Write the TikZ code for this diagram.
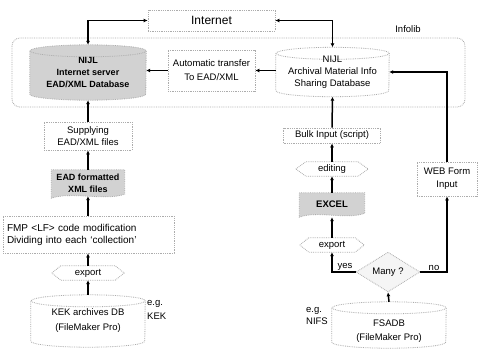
\documentclass[tikz,border=0pt]{standalone}
\usepackage{fontspec}
\setmainfont{Liberation Sans}
\usetikzlibrary{arrows.meta,shapes.geometric,calc,backgrounds}
\pgfdeclarelayer{paper}
\pgfsetlayers{paper,background,main}

\newcommand{\dbcyl}[3]{% name, fill, half width
  \begin{pgfonlayer}{background}
  \draw[outl, fill=#2] ([yshift=-6pt]#1.north west) -- ([yshift=6pt]#1.south west)
     arc[start angle=180, end angle=360, x radius=#3pt, y radius=6pt]
     -- ([yshift=-6pt]#1.north east)
     arc[start angle=0, end angle=180, x radius=#3pt, y radius=6pt] -- cycle;
  \draw[outl] ([yshift=-6pt]#1.north east) arc[start angle=0, end angle=-180, x radius=#3pt, y radius=6pt];
  \end{pgfonlayer}}
\newcommand{\hexshape}[2]{% name, inset
  \begin{pgfonlayer}{background}
  \draw[outl, fill=white] (#1.west) -- ([xshift=#2pt]#1.north west) -- ([xshift=-#2pt]#1.north east)
     -- (#1.east) -- ([xshift=-#2pt]#1.south east) -- ([xshift=#2pt]#1.south west) -- cycle;
  \end{pgfonlayer}}
\newcommand{\docshape}[2]{% name, quarter width
  \begin{pgfonlayer}{background}
  \draw[outl, fill=gray!35] (#1.north west) -- (#1.north east) -- ([yshift=2pt]#1.south east)
     .. controls ([xshift=-#2pt,yshift=-5pt]#1.south east) and ([xshift=#2pt,yshift=5pt]#1.south west)
     .. ([yshift=-2pt]#1.south west) -- cycle;
  \end{pgfonlayer}}

\begin{document}
\begin{tikzpicture}[x=1pt,y=1pt,
  font=\fontsize{9.5}{12}\selectfont,
  box/.style={draw=gray!65, densely dotted, line width=0.8pt, fill=white, align=center, inner sep=1pt},
  plain/.style={draw=none, align=center, inner sep=1pt},
  outl/.style={draw=gray!65, densely dotted, line width=0.8pt},
  arr/.style={line width=1.5pt, -{Latex[length=4pt,width=4pt]}},
  darr/.style={line width=1.5pt, {Latex[length=4pt,width=4pt]}-{Latex[length=4pt,width=4pt]}},
]
\begin{pgfonlayer}{paper}
\fill[white] (0,0) rectangle (478,-349);
\end{pgfonlayer}
\useasboundingbox (0,0) rectangle (478,-349);

% Infolib frame
\begin{pgfonlayer}{background}
\draw[outl, rounded corners=8pt] (12,-38) rectangle (465,-107);
\end{pgfonlayer}
\node[plain] (infolib) at (408,-29) {Infolib};

% Internet
\node[box, minimum width=127, minimum height=21, font=\fontsize{12}{13}\selectfont] (internet) at (211.5,-20.5) {Internet};

% top row
\node[plain, minimum width=116, minimum height=55, font=\bfseries\fontsize{9}{12}\selectfont] (nijlL) at (88,-72.5) {NIJL\\Internet server\\EAD/XML Database};
\dbcyl{nijlL}{gray!35}{58}
\node[box, minimum width=87, minimum height=41, font=\fontsize{9.5}{14}\selectfont] (auto) at (211.5,-70.5) {Automatic transfer\\To EAD/XML};
\node[plain, minimum width=113, minimum height=49] (nijlR) at (332.5,-72) {NIJL\\Archival Material Info\\Sharing Database};
\dbcyl{nijlR}{white}{56.5}

% left column
\node[box, minimum width=88, minimum height=28] (supp) at (88,-136) {Supplying\\EAD/XML files};
\node[plain, minimum width=73, minimum height=26, font=\bfseries\fontsize{9}{12}\selectfont] (ead) at (88,-183) {EAD formatted\\XML files};
\docshape{ead}{20}
\node[box, text width=163, minimum height=37, align=left, inner xsep=4pt, font=\fontsize{10}{12}\selectfont] (fmp) at (88.5,-234.5) {FMP <LF> code modification\\Dividing into each `collection'};
\node[plain, minimum width=72, minimum height=14] (expL) at (88,-273) {export};
\hexshape{expL}{9}
\node[plain, minimum width=114, minimum height=52, font=\fontsize{9.5}{15}\selectfont] (kek) at (88,-321) {KEK archives DB\\(FileMaker Pro)};
\dbcyl{kek}{white}{57}
\node[plain, anchor=west, align=left, font=\fontsize{9.5}{14}\selectfont] (egkek) at (146,-310) {e.g.\\KEK};

% right column
\node[box, minimum width=97, minimum height=15] (bulk) at (332,-135.5) {Bulk Input (script)};
\node[plain, minimum width=72, minimum height=14] (edit) at (332,-169) {editing};
\hexshape{edit}{10}
\node[plain, minimum width=65, minimum height=22, font=\bfseries\fontsize{9.5}{12}\selectfont] (excel) at (332,-204) {EXCEL};
\docshape{excel}{18}
\node[plain, minimum width=64, minimum height=14] (expR) at (332,-245) {export};
\hexshape{expR}{9}
\node[shape=diamond, draw=gray!65, densely dotted, line width=0.8pt, fill=gray!8, minimum width=64, minimum height=29, inner sep=0pt] (many) at (388,-272) {Many ?};
\node[plain, minimum width=114, minimum height=46, font=\fontsize{9.5}{14}\selectfont] (fsadb) at (389,-325) {\rule{0pt}{19pt}FSADB\\(FileMaker Pro)};
\dbcyl{fsadb}{white}{57}
\node[plain, anchor=east, align=left, font=\fontsize{9.5}{12}\selectfont] (egnifs) at (329,-316) {e.g.\\NIFS};
\node[box, minimum width=60, minimum height=34, font=\fontsize{9.5}{13}\selectfont] (web) at (447,-179) {WEB Form\\Input};

% connectors
\draw[darr] (internet.west) -| (nijlL.north);
\draw[darr] (internet.east) -| (nijlR.north);
\draw[arr] (auto.west) -- (auto.west -| nijlL.east);
\draw[arr] (nijlR.west |- auto.east) -- (auto.east);
\draw[arr] (web.north) |- (nijlR.east);
\draw[arr] (bulk.north) -- (nijlR.south);
\draw[arr] (supp.north) -- (nijlL.south);
\draw[arr] (ead.north) -- (supp.south);
\draw[arr] (fmp.north -| ead.south) -- (ead.south);
\draw[arr] (expL.north) -- (expL.north |- fmp.south);
\draw[arr] (kek.north) -- (expL.south);
\draw[arr] (edit.north) -- (bulk.south);
\draw[arr] (excel.north) -- (edit.south);
\draw[arr] (expR.north) -- ([yshift=-2pt]excel.south);
\draw[arr] (many.west) -| (expR.south);
\draw[arr] (many.east) -| (web.south);
\draw[arr] (fsadb.north) -- (many.south);
\node[plain, anchor=south] (yes) at (345,-272) {yes};
\node[plain, anchor=south] (no) at (434,-272) {no};
\end{tikzpicture}
\end{document}
